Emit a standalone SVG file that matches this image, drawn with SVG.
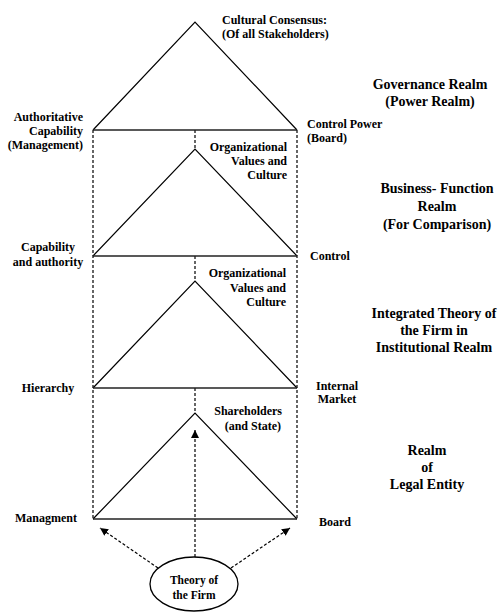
<svg xmlns="http://www.w3.org/2000/svg" width="499" height="612" viewBox="0 0 499 612" font-family="'Liberation Serif', 'Times New Roman', Times, serif">
<style>
text{font-family:'Liberation Serif','Times New Roman',Times,serif;font-weight:700;fill:#000}
.s{font-size:12px}
.b{font-size:14px;text-anchor:middle}
.m{text-anchor:middle}
.e{text-anchor:end}
.tri{fill:none;stroke:#000;stroke-width:1.2}
.base{stroke:#222;stroke-width:1.6}
.d{fill:none;stroke:#000;stroke-width:1.2;stroke-dasharray:3,2}
</style>
<defs>
<marker id="ah" viewBox="0 0 10 10" refX="10" refY="5" markerWidth="8" markerHeight="8" markerUnits="userSpaceOnUse" orient="auto">
<path d="M0,0 L10,5 L0,10 z" fill="#000"/>
</marker>
</defs>
<rect width="499" height="612" fill="#fff"/>
<g id="connectors">
<line class="d" x1="93" y1="130" x2="93" y2="519"/>
<line class="d" x1="297" y1="130" x2="297" y2="519"/>
<line class="d" x1="195" y1="130" x2="195" y2="149"/>
<line class="d" x1="195" y1="256" x2="195" y2="281"/>
<line class="d" x1="195" y1="388" x2="195" y2="413"/>
<line class="d" x1="195" y1="557" x2="195" y2="430" marker-end="url(#ah)"/>
<line class="d" x1="158" y1="568" x2="100" y2="528" marker-end="url(#ah)"/>
<line class="d" x1="231" y1="568" x2="290" y2="528" marker-end="url(#ah)"/>
</g>
<g id="governance">
<path class="tri" d="M93,130 L195,22 L297,130"/>
<line class="base" x1="93" y1="130" x2="297" y2="130"/>
<text class="s" x="222" y="24">Cultural Consensus:</text>
<text class="s" x="222" y="38">(Of all Stakeholders)</text>
<text class="s e" x="83" y="121">Authoritative</text>
<text class="s e" x="83" y="135">Capability</text>
<text class="s e" x="83" y="149">(Management)</text>
<text class="s" x="307" y="128">Control Power</text>
<text class="s" x="307" y="142">(Board)</text>
<text class="b" x="430" y="89">Governance Realm</text>
<text class="b" x="430" y="106">(Power Realm)</text>
</g>
<g id="business">
<path class="tri" d="M93,256 L195,149 L297,256"/>
<line class="base" x1="93" y1="256" x2="297" y2="256"/>
<text class="s e" x="287" y="151">Organizational</text>
<text class="s e" x="287" y="165">Values and</text>
<text class="s e" x="287" y="179">Culture</text>
<text class="s m" x="48" y="251">Capability</text>
<text class="s m" x="48" y="266">and authority</text>
<text class="s" x="310" y="260">Control</text>
<text class="b" x="437" y="193">Business- Function</text>
<text class="b" x="437" y="211">Realm</text>
<text class="b" x="437" y="229">(For Comparison)</text>
</g>
<g id="integrated">
<path class="tri" d="M93,388 L195,281 L297,388"/>
<line class="base" x1="93" y1="388" x2="297" y2="388"/>
<text class="s e" x="286" y="277">Organizational</text>
<text class="s e" x="286" y="292">Values and</text>
<text class="s e" x="286" y="306">Culture</text>
<text class="s m" x="48" y="392">Hierarchy</text>
<text class="s m" x="337" y="390">Internal</text>
<text class="s m" x="337" y="403">Market</text>
<text class="b" x="434" y="318">Integrated Theory of</text>
<text class="b" x="434" y="335">the Firm  in</text>
<text class="b" x="434" y="352">Institutional Realm</text>
</g>
<g id="legal">
<path class="tri" d="M93,519 L195,413 L297,519"/>
<line class="base" x1="93" y1="519" x2="297" y2="519"/>
<text class="s e" x="282" y="415">Shareholders</text>
<text class="s e" x="281" y="430">(and State)</text>
<text class="s m" x="46" y="522">Managment</text>
<text class="s m" x="335" y="526">Board</text>
<text class="b" x="427" y="455">Realm</text>
<text class="b" x="427" y="472">of</text>
<text class="b" x="427" y="489">Legal Entity</text>
</g>
<g id="theory">
<ellipse cx="194" cy="584" rx="44" ry="27" fill="#fff" stroke="#000" stroke-width="1.3"/>
<text class="s m" x="194" y="584" style="font-size:11.5px">Theory of</text>
<text class="s m" x="194" y="599" style="font-size:11.5px">the Firm</text>
</g>
</svg>
